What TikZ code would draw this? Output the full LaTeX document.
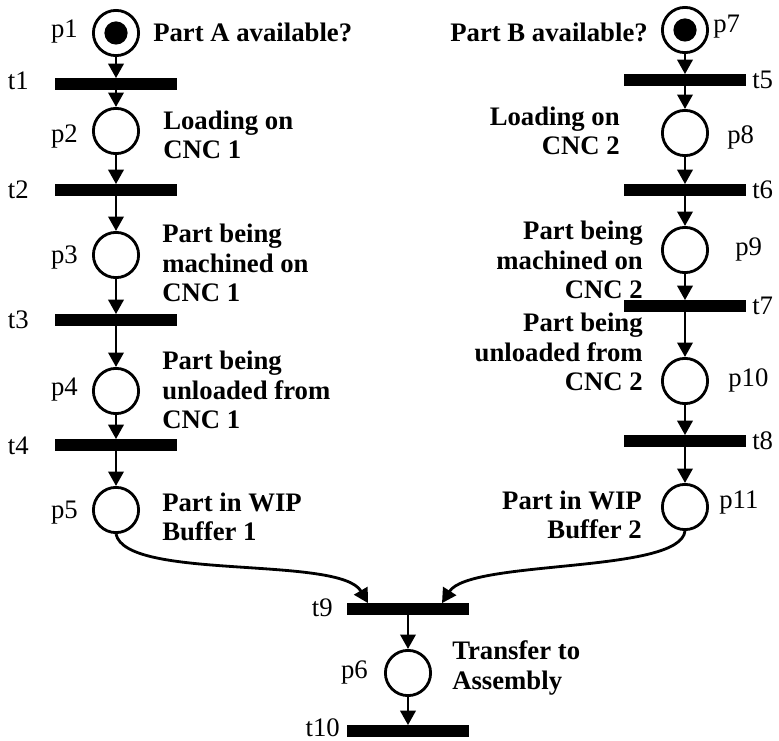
\documentclass[tikz,border=0pt]{standalone}
\usepackage{fontspec}
\setmainfont{Liberation Serif}
\usetikzlibrary{arrows.meta, positioning, calc}

\begin{document}
\begin{tikzpicture}[
  x=0.025cm, y=-0.025cm,
  every node/.style={font=\fontsize{19}{21}\selectfont, inner sep=0pt},
  place/.style={draw, circle, line width=2pt, minimum size=1.13cm},
  marked/.style={path picture={\fill (path picture bounding box.center) circle (0.29cm);}},
  trans/.style={fill=black, minimum width=3.03cm, minimum height=0.28cm},
  desc/.style={font=\bfseries\fontsize{19}{21}\selectfont, align=left},
  descr/.style={desc, align=right},
  arr/.style={-{Triangle[width=0.38cm,length=0.36cm]}, line width=2pt}
]
\useasboundingbox (0,0) rectangle (779,741);

%% part A line (left)
\node[place, marked] (p1)  at (116, 33)  {};
\node[trans]         (t1)  at (116, 84)  {};
\node[place]         (p2)  at (116,131)  {};
\node[trans]         (t2)  at (116,190)  {};
\node[place]         (p3)  at (116,255)  {};
\node[trans]         (t3)  at (116,320)  {};
\node[place]         (p4)  at (116,391)  {};
\node[trans]         (t4)  at (116,445)  {};
\node[place]         (p5)  at (116,510)  {};

%% part B line (right)
\node[place, marked] (p7)  at (685, 30)  {};
\node[trans]         (t5)  at (685, 80)  {};
\node[place]         (p8)  at (685,133)  {};
\node[trans]         (t6)  at (685,190)  {};
\node[place]         (p9)  at (685,250)  {};
\node[trans]         (t7)  at (685,306)  {};
\node[place]         (p10) at (685,381)  {};
\node[trans]         (t8)  at (685,441)  {};
\node[place]         (p11) at (685,507)  {};

%% assembly
\node[trans]         (t9)  at (408,609)  {};
\node[place]         (p6)  at (408,673)  {};
\node[trans]         (t10) at (408,731)  {};

\foreach \a/\b in {p1/t1, t1/p2, p2/t2, t2/p3, p3/t3, t3/p4, p4/t4, t4/p5,
                   p7/t5, t5/p8, p8/t6, t6/p9, p9/t7, t7/p10, p10/t8, t8/p11,
                   t9/p6, p6/t10}
  \draw[arr] (\a) -- (\b);

% merge into t9
\coordinate (t9a) at ($(t9.north)+(-40,0)$);
\coordinate (t9b) at ($(t9.north)+(34,0)$);
\draw[arr] (p5.south) .. controls ($(p5.south)+(10,47)$) and ($(t9a)+(-28,-48)$) .. (t9a);
\draw[arr] (p11.south) .. controls ($(p11.south)+(-5,43)$) and ($(t9b)+(28,-44)$) .. (t9b);

%% place / transition names
\foreach \n/\y in {p1/32, p2/137, p3/258, p4/390, p5/513}
  \node[anchor=east] (l\n) at (78,\y) {\n};
\foreach \n/\y in {t1/81, t2/190, t3/320, t4/446}
  \node[anchor=east] (l\n) at (29,\y) {\n};
\node[anchor=west] (lp7)  at (713, 27)  {p7};
\node[anchor=west] (lp8)  at (727,137)  {p8};
\node[anchor=west] (lp9)  at (735,250)  {p9};
\node[anchor=west] (lp10) at (728,380)  {p10};
\node[anchor=west] (lp11) at (719,503)  {p11};
\foreach \n/\y in {t5/80, t6/190, t7/306, t8/441}
  \node[anchor=west] (l\n) at (752,\y) {\n};
\node[anchor=east] (lt9)  at (333,608) {t9};
\node[anchor=east] (lp6)  at (368,673) {p6};
\node[anchor=east] (lt10) at (340,728) {t10};

%% descriptions
\node[desc, anchor=west]  (dA)  at (153, 32) {Part A available?};
\node[desc, anchor=west]  (dL1) at (163,135) {Loading on\\CNC 1};
\node[desc, anchor=west]  (dM1) at (162,263) {Part being\\machined on\\CNC 1};
\node[desc, anchor=west]  (dU1) at (162,390) {Part being\\unloaded from\\CNC 1};
\node[desc, anchor=west]  (dW1) at (162,517) {Part in WIP\\Buffer 1};
\node[descr, anchor=east] (dB)  at (648, 32) {Part B available?};
\node[descr, anchor=east] (dL2) at (620,131) {Loading on\\CNC 2};
\node[descr, anchor=east] (dM2) at (643,260) {Part being\\machined on\\CNC 2};
\node[descr, anchor=east] (dU2) at (643,352) {Part being\\unloaded from\\CNC 2};
\node[descr, anchor=east] (dW2) at (642,515) {Part in WIP\\Buffer 2};
\node[desc, anchor=west]  (dT)  at (452,668) {Transfer to\\Assembly};

\end{tikzpicture}
\end{document}
